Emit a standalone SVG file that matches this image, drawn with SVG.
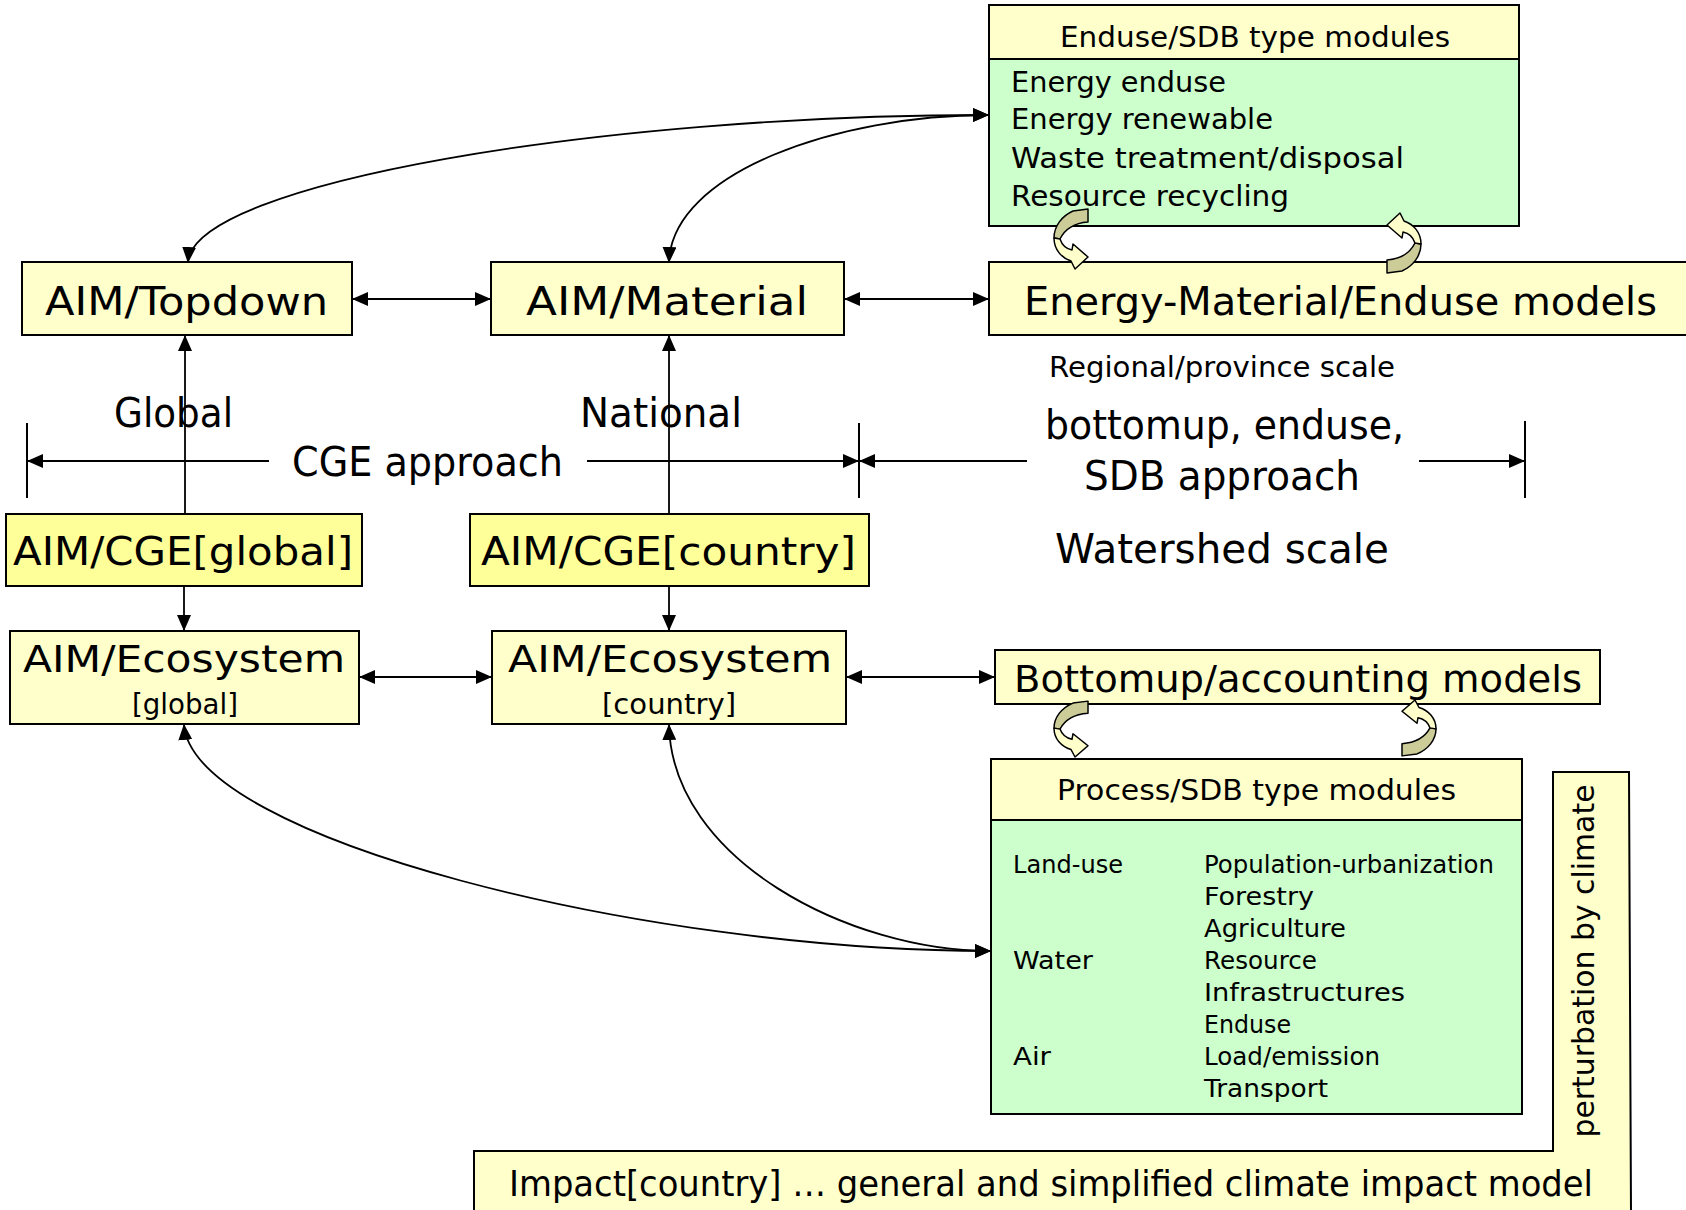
<svg xmlns="http://www.w3.org/2000/svg" width="1686" height="1210" viewBox="0 0 1686 1210">
<style>
text{font-family:"DejaVu Sans","Liberation Sans",sans-serif;fill:#000}
.box{fill:#FFFFCC;stroke:#000;stroke-width:2}
.cge{fill:#FFFF99;stroke:#000;stroke-width:2}
.green{fill:#CCFFCC;stroke:#000;stroke-width:2}
.ln{fill:none;stroke:#000;stroke-width:2}
.con{fill:none;stroke:#000;stroke-width:1.8}
.dk{fill:#CCCC99;stroke:#000;stroke-width:1.5;stroke-linejoin:round}
.lt{fill:#FFFFCC;stroke:#000;stroke-width:1.5;stroke-linejoin:round}
</style>
<defs>
<marker id="ah" markerUnits="userSpaceOnUse" markerWidth="16" markerHeight="14" refX="15" refY="7" orient="auto-start-reverse" viewBox="0 0 16 14">
<path d="M0,0 L16,7 L0,14 Z" fill="#000"/>
</marker>
<g id="curl">
<path class="dk" d="M 2,-29 L 17,-31 L 17,-18 C 4,-17 -6,-11 -11,-1 L -17,-2 C -17,-14 -9,-24 2,-29 Z"/>
<path class="lt" d="M -17,-2 C -17,10 -9,18 0,21 L 4,29 L 17,17 L 2,4 L 1,10 C -4,9 -9,5 -11,-1 Z"/>
</g>
</defs>
<rect width="1686" height="1210" fill="#fff"/>

<g id="impact">
<path class="box" d="M 474,1215 L 474,1151 L 1553,1151 L 1553,772 L 1629,772 L 1631,1215"/>
<text x="509" y="1196" font-size="35" textLength="1084" lengthAdjust="spacingAndGlyphs">Impact[country] … general and simplified climate impact model</text>
<text transform="translate(1594,961) rotate(-90)" text-anchor="middle" font-size="30" textLength="353" lengthAdjust="spacingAndGlyphs">perturbation by climate</text>
</g>

<g id="enduse-modules">
<rect class="box" x="989" y="5" width="530" height="54"/>
<rect class="green" x="989" y="59" width="530" height="167"/>
<text x="1060" y="47" font-size="29" textLength="390" lengthAdjust="spacingAndGlyphs">Enduse/SDB type modules</text>
<text x="1011" y="92" font-size="29" textLength="215" lengthAdjust="spacingAndGlyphs">Energy enduse</text>
<text x="1011" y="129" font-size="29" textLength="262" lengthAdjust="spacingAndGlyphs">Energy renewable</text>
<text x="1011" y="168" font-size="29" textLength="393" lengthAdjust="spacingAndGlyphs">Waste treatment/disposal</text>
<text x="1011" y="206" font-size="29" textLength="278" lengthAdjust="spacingAndGlyphs">Resource recycling</text>
</g>

<g id="topdown">
<rect class="box" x="22" y="262" width="330" height="73"/>
<text x="45" y="315" font-size="39" textLength="283" lengthAdjust="spacingAndGlyphs">AIM/Topdown</text>
</g>
<g id="material">
<rect class="box" x="491" y="262" width="353" height="73"/>
<text x="526" y="315" font-size="39" textLength="282" lengthAdjust="spacingAndGlyphs">AIM/Material</text>
</g>
<g id="energy-material">
<rect class="box" x="989" y="262" width="720" height="73"/>
<text x="1024" y="315" font-size="39" textLength="633" lengthAdjust="spacingAndGlyphs">Energy-Material/Enduse models</text>
</g>

<g id="labels">
<text x="1049" y="377" font-size="29" textLength="346" lengthAdjust="spacingAndGlyphs">Regional/province scale</text>
<text x="114" y="427" font-size="40" textLength="119" lengthAdjust="spacingAndGlyphs">Global</text>
<text x="580" y="427" font-size="40" textLength="162" lengthAdjust="spacingAndGlyphs">National</text>
<text x="292" y="476" font-size="40" textLength="271" lengthAdjust="spacingAndGlyphs">CGE approach</text>
<text x="1045" y="439" font-size="40" textLength="359" lengthAdjust="spacingAndGlyphs">bottomup, enduse,</text>
<text x="1084" y="490" font-size="40" textLength="276" lengthAdjust="spacingAndGlyphs">SDB approach</text>
<text x="1055" y="563" font-size="41" textLength="334" lengthAdjust="spacingAndGlyphs">Watershed scale</text>
</g>

<g id="cge-global">
<rect class="cge" x="6" y="514" width="356" height="72"/>
<text x="13" y="565" font-size="39" textLength="340" lengthAdjust="spacingAndGlyphs">AIM/CGE[global]</text>
</g>
<g id="cge-country">
<rect class="cge" x="470" y="514" width="399" height="72"/>
<text x="481" y="565" font-size="39" textLength="375" lengthAdjust="spacingAndGlyphs">AIM/CGE[country]</text>
</g>

<g id="eco-global">
<rect class="box" x="10" y="631" width="349" height="93"/>
<text x="23" y="672" font-size="37" textLength="322" lengthAdjust="spacingAndGlyphs">AIM/Ecosystem</text>
<text x="132" y="714" font-size="28" textLength="106" lengthAdjust="spacingAndGlyphs">[global]</text>
</g>
<g id="eco-country">
<rect class="box" x="492" y="631" width="354" height="93"/>
<text x="508" y="672" font-size="37" textLength="324" lengthAdjust="spacingAndGlyphs">AIM/Ecosystem</text>
<text x="602" y="714" font-size="28" textLength="134" lengthAdjust="spacingAndGlyphs">[country]</text>
</g>

<g id="bottomup">
<rect class="box" x="995" y="650" width="605" height="54"/>
<text x="1014" y="692" font-size="38" textLength="568" lengthAdjust="spacingAndGlyphs">Bottomup/accounting models</text>
</g>

<g id="process-modules">
<rect class="box" x="991" y="759" width="531" height="61"/>
<rect class="green" x="991" y="820" width="531" height="294"/>
<text x="1057" y="800" font-size="29" textLength="399" lengthAdjust="spacingAndGlyphs">Process/SDB type modules</text>
<g font-size="25">
<text x="1013" y="873" textLength="110" lengthAdjust="spacingAndGlyphs">Land-use</text>
<text x="1013" y="969" textLength="80" lengthAdjust="spacingAndGlyphs">Water</text>
<text x="1013" y="1065" textLength="38" lengthAdjust="spacingAndGlyphs">Air</text>
<text x="1204" y="873" textLength="290" lengthAdjust="spacingAndGlyphs">Population-urbanization</text>
<text x="1204" y="905" textLength="110" lengthAdjust="spacingAndGlyphs">Forestry</text>
<text x="1204" y="937" textLength="142" lengthAdjust="spacingAndGlyphs">Agriculture</text>
<text x="1204" y="969" textLength="113" lengthAdjust="spacingAndGlyphs">Resource</text>
<text x="1204" y="1001" textLength="201" lengthAdjust="spacingAndGlyphs">Infrastructures</text>
<text x="1204" y="1033" textLength="87" lengthAdjust="spacingAndGlyphs">Enduse</text>
<text x="1204" y="1065" textLength="176" lengthAdjust="spacingAndGlyphs">Load/emission</text>
<text x="1204" y="1097" textLength="124" lengthAdjust="spacingAndGlyphs">Transport</text>
</g>
</g>

<g id="connectors">
<path class="con" d="M 353,299 L 490,299" marker-start="url(#ah)" marker-end="url(#ah)"/>
<path class="con" d="M 845,299 L 988,299" marker-start="url(#ah)" marker-end="url(#ah)"/>
<path class="con" d="M 360,677 L 491,677" marker-start="url(#ah)" marker-end="url(#ah)"/>
<path class="con" d="M 847,677 L 994,677" marker-start="url(#ah)" marker-end="url(#ah)"/>
<path class="con" d="M 185,514 L 185,336" marker-end="url(#ah)"/>
<path class="con" d="M 669,514 L 669,336" marker-end="url(#ah)"/>
<path class="con" d="M 184,586 L 184,630" marker-end="url(#ah)"/>
<path class="con" d="M 669,586 L 669,630" marker-end="url(#ah)"/>
<path class="con" d="M 188,262 C 194,183 602,115 988,115" marker-start="url(#ah)" marker-end="url(#ah)"/>
<path class="con" d="M 669,262 C 672,172 839,115 988,115" marker-start="url(#ah)" marker-end="url(#ah)"/>
<path class="con" d="M 184,725 C 194,839 645,951 990,951" marker-start="url(#ah)" marker-end="url(#ah)"/>
<path class="con" d="M 669,725 C 672,860 850,951 990,951" marker-start="url(#ah)" marker-end="url(#ah)"/>
<path class="ln" d="M 27,423 L 27,498 M 859,423 L 859,498 M 1525,421 L 1525,498"/>
<path class="con" d="M 269,461 L 28,461" marker-end="url(#ah)"/>
<path class="con" d="M 587,461 L 858,461" marker-end="url(#ah)"/>
<path class="con" d="M 1027,461 L 860,461" marker-end="url(#ah)"/>
<path class="con" d="M 1419,461 L 1524,461" marker-end="url(#ah)"/>
<use href="#curl" transform="translate(1071,240)"/>
<use href="#curl" transform="translate(1404,242) rotate(180)"/>
<use href="#curl" transform="translate(1071,730) scale(1,0.93)"/>
<use href="#curl" transform="translate(1419,727) rotate(180) scale(1,0.93)"/>
</g>
</svg>
